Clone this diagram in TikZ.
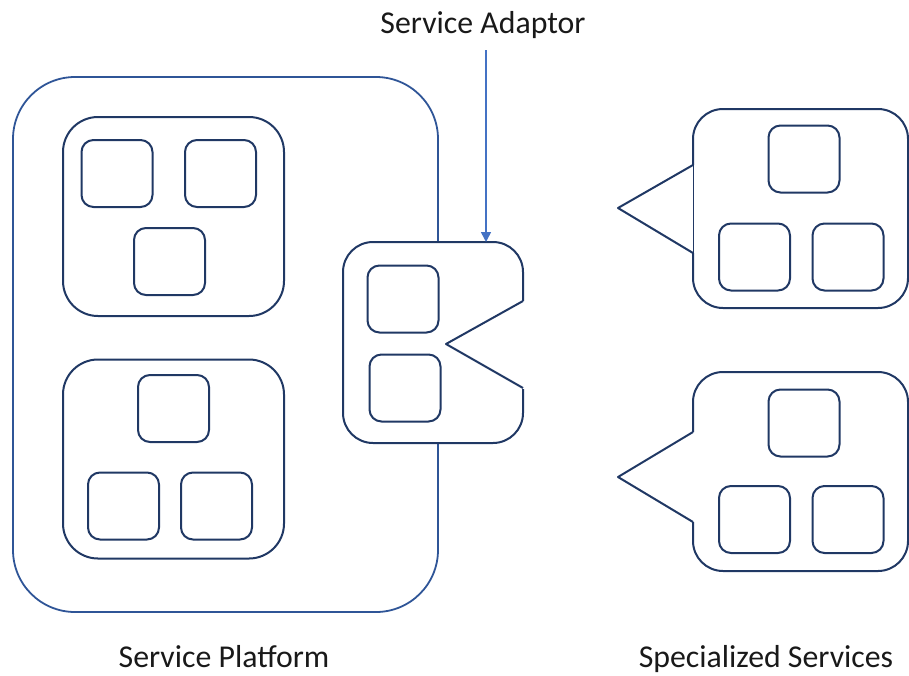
\documentclass[tikz,border=0pt]{standalone}
\usepackage{fontspec}
\setmainfont{Carlito}
\usetikzlibrary{arrows.meta}
\definecolor{navy}{HTML}{203864}
\definecolor{platblue}{HTML}{2F5597}
\definecolor{arrowblue}{HTML}{4472C4}
\tikzset{
  outline/.style={draw=navy, line width=2pt, line join=round},
  unit/.style={outline, fill=white, rounded corners=12pt, minimum width=71pt, minimum height=67pt, inner sep=0pt},
  group/.style={outline, rounded corners=35pt, minimum width=221pt, minimum height=199pt, inner sep=0pt},
  platform/.style={draw=platblue, line width=1.8pt, rounded corners=62pt, minimum width=425pt, minimum height=535pt, inner sep=0pt},
  caption/.style={font=\fontsize{31.8}{38}\selectfont, anchor=base, inner sep=0pt, text=black!90},
  pointer/.style={draw=arrowblue, line width=1.6pt, -{Triangle[length=10pt,width=10pt]}}
}
\begin{document}
\begin{tikzpicture}[x=1pt, y=-1pt]
\useasboundingbox (0,0) rectangle (909,675);

% service platform with its two groups
\node[platform] (plat) at (225.5,344.5) {};
\node[group] (g1) at (173.5,216.5) {};
\node[unit] (g1a) at (117,173.5) {};
\node[unit] (g1b) at (220.5,173.5) {};
\node[unit] (g1c) at (169.5,261.5) {};
\node[group] (g2) at (173.5,459) {};
\node[unit] (g2a) at (173.5,408.5) {};
\node[unit] (g2b) at (123.5,506) {};
\node[unit] (g2c) at (216.5,506) {};

% service adaptor (plug with a notch on its right side)
\fill[white, rounded corners=30pt] (343,242) rectangle (523,443);
\draw[outline, rounded corners=30pt] (523,301) -- (523,242) -- (343,242) -- (343,443) -- (523,443) -- (523,389);
\draw[outline] (523,301) -- (446,344) -- (523,388);
\node[unit] (ad1) at (403,299) {};
\node[unit] (ad2) at (405,388) {};

% specialized services (callouts pointing left)
\draw[outline, rounded corners=30pt] (693,165) -- (693,109) -- (908,109) -- (908,308) -- (693,308) -- (693,253);
\draw[outline] (693,165) -- (618,208) -- (693,253);
\draw[navy, line width=1pt] (693,165) -- (693,253);
\node[unit] (s1a) at (804,159) {};
\node[unit] (s1b) at (754.5,257) {};
\node[unit] (s1c) at (848,257) {};

\draw[outline, rounded corners=30pt] (693,432) -- (693,372) -- (908,372) -- (908,571) -- (693,571) -- (693,522);
\draw[outline] (693,432) -- (618,477) -- (693,522);
\node[unit] (s2a) at (804,423) {};
\node[unit] (s2b) at (754.5,519.5) {};
\node[unit] (s2c) at (848,519.5) {};

% labels
\node[caption] (ladapt) at (483,33) {Service Adaptor};
\node[caption] (lplat) at (224,667) {Service Platform};
\node[caption] (lspec) at (766,667) {Specialized Services};

% arrow from the label to the adaptor
\coordinate (arrstart) at (486,50);
\coordinate (arrend) at (486,242);
\draw[pointer] (arrstart) -- (arrend);
\end{tikzpicture}
\end{document}
